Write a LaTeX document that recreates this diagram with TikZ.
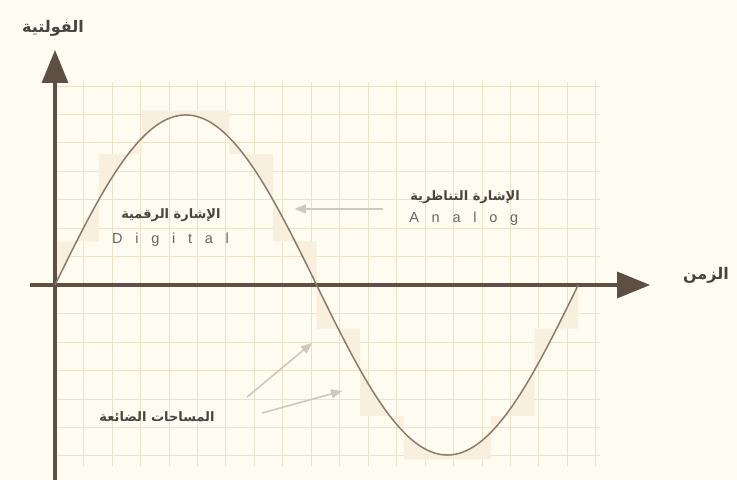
\documentclass[tikz,border=0pt]{standalone}
\usepackage{fontspec}
\setmainfont{Liberation Sans}
\newfontfamily\arabicfont[Script=Arabic]{DejaVu Sans}
\newfontfamily\spacedfont[LetterSpace=88]{Liberation Sans}
\TeXXeTstate=1
\usetikzlibrary{arrows.meta}

\definecolor{paper}{HTML}{FEFCF0}
\definecolor{gridtan}{HTML}{EBE2CB}
\definecolor{lostpeach}{HTML}{F9EFDF}
\definecolor{curvebrown}{HTML}{8C7B6B}
\definecolor{axisbrown}{HTML}{5E4F45}
\definecolor{pointergray}{HTML}{CFC8BC}
\definecolor{labelgray}{HTML}{4A4440}

\begin{document}
\begin{tikzpicture}[x=21.8pt,y=21.8pt,
  axis/.style={draw=axisbrown,line width=3.2pt,-{Triangle[length=33pt,width=26pt]}},
  pointer/.style={draw=pointergray,line width=1.6pt,-{Triangle[length=11pt,width=9pt]}},
  arlabel/.style={text=labelgray,font=\arabicfont\bfseries\fontsize{13}{15}\selectfont,inner sep=1pt},
  axislabel/.style={arlabel,font=\arabicfont\bfseries\fontsize{16}{18}\selectfont},
  enlabel/.style={text=gray!80!black,font=\spacedfont\fontsize{14.5}{16}\selectfont,inner sep=1pt}]

% Paper
\fill[paper] (-2.523,-8.945) rectangle (31.284,13.073);
\useasboundingbox (-2.523,-8.945) rectangle (31.284,13.073);

%%%%%%%%%%%%%%%%%%%%%%%%%%%%%%%%%%%%%%%%%%%%%%%%%%
% Grid and lost areas
%%%%%%%%%%%%%%%%%%%%%%%%%%%%%%%%%%%%%%%%%%%%%%%%%%

\draw[gridtan,line width=0.6pt] (0,-8.3) grid (25,9.3);

% Between the steps and the curve
\fill[lostpeach,even odd rule]
(0,0)--(0,2)--(2,2)--(2,6)--(4,6)--(4,8)--(8,8)--(8,6)--(10,6)--(10,2)
--(12,2)--(12,-2)--(14,-2)--(14,-6)--(16,-6)--(16,-8)--(20,-8)--(20,-6)
--(22,-6)--(22,-2)--(24,-2)--(24,0)--cycle
(0,0) plot[domain=0:24,samples=120] (\x,{7.8*sin(15*\x)}) --cycle;

%%%%%%%%%%%%%%%%%%%%%%%%%%%%%%%%%%%%%%%%%%%%%%%%%%
% Axes
%%%%%%%%%%%%%%%%%%%%%%%%%%%%%%%%%%%%%%%%%%%%%%%%%%

\coordinate (O) at (0,0);
\coordinate (tstart) at (-1.15,0);
\coordinate (tend) at (27.3,0);
\coordinate (vstart) at (0,-8.945);
\coordinate (vend) at (0,10.78);

\draw[axis] (tstart)--(tend);
\draw[axis] (vstart)--(vend);

\node[axislabel] (volt) at (-0.09,11.79) {\beginR الفولتية\endR};
\node[axislabel] (time) at (29.86,0.46) {\beginR الزمن\endR};

% Analog curve
\draw[curvebrown,line width=1.5pt]
plot[domain=0:24,samples=150] (\x,{7.8*sin(15*\x)});

%%%%%%%%%%%%%%%%%%%%%%%%%%%%%%%%%%%%%%%%%%%%%%%%%%
% Labels
%%%%%%%%%%%%%%%%%%%%%%%%%%%%%%%%%%%%%%%%%%%%%%%%%%

\node[arlabel] (digitalar) at (5.32,3.21) {\beginR الإشارة الرقمية\endR};
\node[enlabel] (digital) at (5.3,2.06) {Digital};

\node[arlabel] (analogar) at (18.81,4.04) {\beginR الإشارة التناظرية\endR};
\node[enlabel] (analog) at (18.75,3.03) {Analog};

\node[arlabel] (lost) at (4.68,-6.06) {\beginR المساحات الضائعة\endR};

% Pointers
\coordinate (analogtail) at (15.05,3.49);
\coordinate (analogtip) at (11.0,3.49);
\draw[pointer] (analogtail)--(analogtip);

\coordinate (losttailA) at (8.81,-5.14);
\coordinate (losttipA) at (11.79,-2.66);
\coordinate (losttailB) at (9.5,-5.87);
\coordinate (losttipB) at (13.17,-4.86);
\draw[pointer] (losttailA)--(losttipA);
\draw[pointer] (losttailB)--(losttipB);

\end{tikzpicture}
\end{document}
